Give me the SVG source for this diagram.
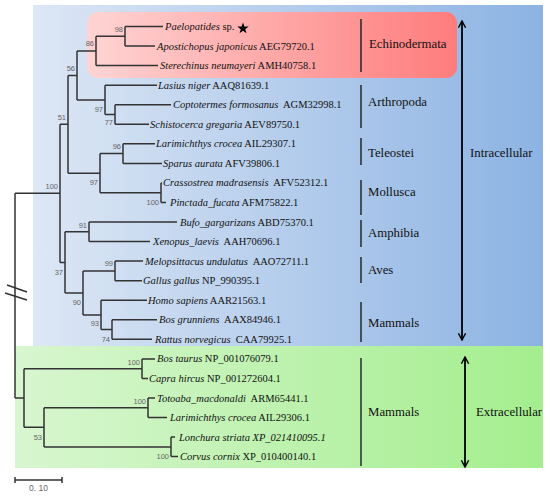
<svg xmlns="http://www.w3.org/2000/svg" width="550" height="496" viewBox="0 0 550 496">
<defs>
<linearGradient id="gBlue" x1="0" y1="0" x2="1" y2="0"><stop offset="0" stop-color="#dde7f5"/><stop offset="1" stop-color="#8cb3e3"/></linearGradient>
<linearGradient id="gGreen" x1="0" y1="0" x2="1" y2="0"><stop offset="0" stop-color="#d8f6d0"/><stop offset="1" stop-color="#a4ee8e"/></linearGradient>
<linearGradient id="gRed" x1="0" y1="0" x2="1" y2="0"><stop offset="0" stop-color="#ffd4d4"/><stop offset="1" stop-color="#ff7c7c"/></linearGradient>
<marker id="ah" viewBox="0 0 10 10" refX="9" refY="5" markerWidth="9" markerHeight="9" markerUnits="userSpaceOnUse" orient="auto-start-reverse"><path d="M1.5,1 L9,5 L1.5,9" fill="none" stroke="#000" stroke-width="1.6"/></marker>
</defs>
<style>
.t{font-family:"Liberation Serif","Times New Roman",serif;font-size:10.5px;fill:#111;white-space:pre}
.i{font-style:italic}
.b{font-family:"Liberation Sans",Arial,sans-serif;font-size:7.5px;fill:#666;text-anchor:end}
.c{font-family:"Liberation Serif","Times New Roman",serif;font-size:12.8px;fill:#111}
.br{fill:none;stroke:#333;stroke-width:1.5}
.bar{stroke:#111;stroke-width:1.3}
.arr{stroke:#000;stroke-width:1.8;marker-start:url(#ah);marker-end:url(#ah)}
</style>
<g id="backgrounds">
<rect x="33" y="5" width="510" height="342" fill="url(#gBlue)"/>
<rect x="15" y="346" width="528" height="122" fill="url(#gGreen)"/>
<rect x="87" y="12" width="370" height="66" rx="11" fill="url(#gRed)"/>
</g>
<g id="connectors">
<path class="br" d="M125,26.5V46M125,26.5H163M125,46H155"/>
<path class="br" d="M96,36.3V65.6M96,36.3H125M96,65.6H158"/>
<path class="br" d="M115,104.7V124.3M115,104.7H171M115,124.3H149"/>
<path class="br" d="M105,85.2V114.5M105,85.2H157M105,114.5H115"/>
<path class="br" d="M77,51V99.9M77,51H96M77,99.9H105"/>
<path class="br" d="M123,143.8V163.4M123,143.8H155M123,163.4H162"/>
<path class="br" d="M161,182.9V202.5M161,182.9H162M161,202.5H166"/>
<path class="br" d="M100,153.6V192.7M100,153.6H123M100,192.7H161"/>
<path class="br" d="M68,75.4V173.2M68,75.4H77M68,173.2H100"/>
<path class="br" d="M89,222V241.6M89,222H177M89,241.6H150"/>
<path class="br" d="M115,261.1V280.7M115,261.1H143M115,280.7H142"/>
<path class="br" d="M112,319.8V339.3M112,319.8H157M112,339.3H152"/>
<path class="br" d="M101,300.2V329.6M101,300.2H147M101,329.6H112"/>
<path class="br" d="M83,270.9V314.9M83,270.9H115M83,314.9H101"/>
<path class="br" d="M65,231.8V292.9M65,231.8H89M65,292.9H83"/>
<path class="br" d="M60,124.3V262.4M60,124.3H68M60,262.4H65"/>
<path class="br" d="M142,358.9V378.4M142,358.9H155M142,378.4H148"/>
<path class="br" d="M148,398V417.5M148,398H155M148,417.5H167"/>
<path class="br" d="M171,437.1V456.6M171,437.1H175M171,456.6H178"/>
<path class="br" d="M44,407.8V446.9M44,407.8H148M44,446.9H171"/>
<path class="br" d="M24,368.7V427.3M24,368.7H142M24,427.3H44"/>
<path class="br" d="M15,193.3V398M15,193.3H60M15,398H24"/>
<path class="br" d="M7,285L27,292M5,293L27,300"/>
<path class="br" d="M15,480H62M15,477V483M62,477V483"/>
<path class="bar" d="M361,19V72M361,85V128M361,138V165M361,180V215M361,220V247M361,257V283M361,302V342M361,358V466"/>
<line class="arr" x1="462" y1="21" x2="462" y2="340"/>
<line class="arr" x1="465" y1="357" x2="465" y2="467"/>
</g>
<g id="bootstrap">
<text class="b" x="123" y="32">98</text>
<text class="b" x="94" y="46">86</text>
<text class="b" x="75" y="71">56</text>
<text class="b" x="66" y="120">51</text>
<text class="b" x="103" y="112">97</text>
<text class="b" x="113" y="125">77</text>
<text class="b" x="121" y="149">96</text>
<text class="b" x="98" y="185">97</text>
<text class="b" x="159" y="205">100</text>
<text class="b" x="58" y="189">100</text>
<text class="b" x="87" y="228">91</text>
<text class="b" x="113" y="266">99</text>
<text class="b" x="63" y="275">37</text>
<text class="b" x="81" y="305">90</text>
<text class="b" x="99" y="326">93</text>
<text class="b" x="110" y="342">74</text>
<text class="b" x="140" y="365">100</text>
<text class="b" x="146" y="404">100</text>
<text class="b" x="169" y="459">100</text>
<text class="b" x="42" y="440">53</text>
<text class="b" x="48" y="491" style="font-size:8.5px">0. 10</text>
</g>
<g id="leaves">
<g id="leaf-paelopatides"><text class="t" x="165" y="30"><tspan class="i">Paelopatides</tspan> sp.</text><polygon points="243,22.5 244.4,26.6 248.7,26.6 245.2,29.2 246.5,33.3 243,30.8 239.5,33.3 240.8,29.2 237.3,26.6 241.6,26.6" fill="#000"/></g>
<text id="leaf-apostichopus" class="t" x="157" y="49.5"><tspan class="i">Apostichopus japonicus</tspan> AEG79720.1</text>
<text id="leaf-sterechinus" class="t" x="160" y="69"><tspan class="i">Sterechinus neumayeri</tspan> AMH40758.1</text>
<text id="leaf-lasius" class="t" x="158" y="88.7"><tspan class="i">Lasius niger</tspan> AAQ81639.1</text>
<text id="leaf-coptotermes" class="t" x="173" y="108.2"><tspan class="i">Coptotermes formosanus</tspan>  AGM32998.1</text>
<text id="leaf-schistocerca" class="t" x="150" y="127.8"><tspan class="i">Schistocerca gregaria</tspan> AEV89750.1</text>
<text id="leaf-larimichthys1" class="t" x="156" y="147.3"><tspan class="i">Larimichthys crocea</tspan> AIL29307.1</text>
<text id="leaf-sparus" class="t" x="163" y="166.9"><tspan class="i">Sparus aurata</tspan> AFV39806.1</text>
<text id="leaf-crassostrea" class="t" x="163" y="186.4"><tspan class="i">Crassostrea madrasensis</tspan>  AFV52312.1</text>
<text id="leaf-pinctada" class="t" x="170" y="206"><tspan class="i">Pinctada_fucata</tspan> AFM75822.1</text>
<text id="leaf-bufo" class="t" x="180" y="225.5"><tspan class="i">Bufo_gargarizans</tspan> ABD75370.1</text>
<text id="leaf-xenopus" class="t" x="153" y="245.1"><tspan class="i">Xenopus_laevis</tspan>  AAH70696.1</text>
<text id="leaf-melopsittacus" class="t" x="145" y="264.6"><tspan class="i">Melopsittacus undulatus</tspan>  AAO72711.1</text>
<text id="leaf-gallus" class="t" x="143" y="284.2"><tspan class="i">Gallus gallus</tspan> NP_990395.1</text>
<text id="leaf-homo" class="t" x="148" y="303.7"><tspan class="i">Homo sapiens</tspan> AAR21563.1</text>
<text id="leaf-bosgrunniens" class="t" x="159" y="323.3"><tspan class="i">Bos grunniens</tspan>  AAX84946.1</text>
<text id="leaf-rattus" class="t" x="155" y="342.8"><tspan class="i">Rattus norvegicus</tspan>  CAA79925.1</text>
<text id="leaf-bostaurus" class="t" x="157" y="362.4"><tspan class="i">Bos taurus</tspan> NP_001076079.1</text>
<text id="leaf-capra" class="t" x="149" y="381.9"><tspan class="i">Capra hircus</tspan> NP_001272604.1</text>
<text id="leaf-totoaba" class="t" x="157" y="401.5"><tspan class="i">Totoaba_macdonaldi</tspan>  ARM65441.1</text>
<text id="leaf-larimichthys2" class="t" x="170" y="421"><tspan class="i">Larimichthys crocea</tspan> AIL29306.1</text>
<text id="leaf-lonchura" class="t i" x="179" y="440.6">Lonchura striata XP_021410095.1</text>
<text id="leaf-corvus" class="t" x="180" y="460.1"><tspan class="i">Corvus cornix</tspan> XP_010400140.1</text>
</g>
<g id="clades">
<text class="c" x="369" y="48">Echinodermata</text>
<text class="c" x="368" y="106">Arthropoda</text>
<text class="c" x="368" y="157">Teleostei</text>
<text class="c" x="368" y="196">Mollusca</text>
<text class="c" x="368" y="237">Amphibia</text>
<text class="c" x="368" y="274">Aves</text>
<text class="c" x="368" y="327">Mammals</text>
<text class="c" x="368" y="416">Mammals</text>
<text class="c" x="470" y="157">Intracellular</text>
<text class="c" x="476" y="416">Extracellular</text>
</g>
</svg>
